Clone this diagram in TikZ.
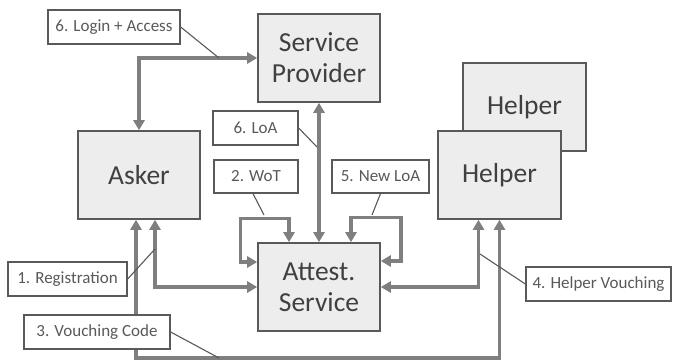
\documentclass[tikz,border=0pt]{standalone}
\usepackage{fontspec}
\setmainfont{Carlito}
\usetikzlibrary{arrows.meta}
\definecolor{boxfill}{HTML}{EDEDED}
\definecolor{boxline}{HTML}{595959}
\definecolor{boxtext}{HTML}{404040}
\definecolor{conncol}{HTML}{7F7F7F}
\definecolor{tagtext}{HTML}{595959}
\tikzset{
  bigbox/.style={draw=boxline, line width=1.6pt, fill=boxfill, text=boxtext,
    minimum width=122pt, minimum height=88pt, inner sep=0pt, align=center,
    font=\fontsize{27.5}{31}\selectfont},
  tag/.style={draw=boxline, line width=1.3pt, fill=white, text=tagtext,
    minimum height=34pt, inner sep=0pt, align=center,
    font=\fontsize{17}{20}\selectfont},
  conn/.style={draw=conncol, line width=3.4pt,
    {Triangle[length=10pt,width=11pt]}-{Triangle[length=10pt,width=11pt]}},
  pointer/.style={draw=boxline, line width=1.1pt}
}
\begin{document}
\begin{tikzpicture}[x=1pt,y=1pt]
\useasboundingbox (0,0) rectangle (673,-360);

% main actors
\node[bigbox] (sp) at (319,-58) {Service\\Provider};
\node[bigbox] (asker) at (139,-175) {Asker};
\node[bigbox, minimum width=123pt] (helperB) at (524.5,-107) {Helper};
\node[bigbox, minimum width=123pt] (helper) at (499.5,-175) {Helper};
\node[bigbox] (att) at (319,-287) {Attest.\\Service};

% flows between actors
\coordinate (vcy) at (0,-358);
\draw[conn] (sp.west) -| (asker.north);
\draw[conn] (sp.south) -- (att.north);
\draw[conn] (att.west) -| ([xshift=16pt]asker.south);
\draw[conn] ([xshift=-3pt]asker.south) |- (vcy -| helper.south) -- (helper.south);
\draw[conn] (att.east) -| ([xshift=-21pt]helper.south);
\draw[conn] ([xshift=-30pt]att.north) -- ++(0,24)
  -| ([xshift=-17pt,yshift=25pt]att.west) -- ([yshift=25pt]att.west);
\draw[conn] ([xshift=32pt]att.north) -- ++(0,25)
  -| ([xshift=20pt,yshift=26pt]att.east) -- ([yshift=26pt]att.east);

% step labels
\node[tag, minimum width=132pt] (login) at (114,-27) {6. Login + Access};
\node[tag, minimum width=85pt] (loa) at (255.5,-128) {6. LoA};
\node[tag, minimum width=84pt, minimum height=33pt] (wot) at (256,-176.5) {2. WoT};
\node[tag, minimum width=97pt, minimum height=33pt] (newloa) at (380.5,-176.5) {5. New LoA};
\node[tag, minimum width=119pt] (reg) at (67.5,-279) {1. Registration};
\node[tag, minimum width=146pt] (vc) at (97,-332) {3. Vouching Code};
\node[tag, minimum width=145pt] (hv) at (598.5,-284) {4. Helper Vouching};

% label pointers
\coordinate (pLogin) at (219,-58);
\coordinate (pLoa) at (317,-147);
\coordinate (pWot) at (264,-215);
\coordinate (pNew) at (372,-215);
\coordinate (pReg) at (155,-249);
\coordinate (pVc) at (219,-358);
\coordinate (pHv) at (480,-254);
\draw[pointer] (login.east) -- (pLogin);
\draw[pointer] (loa.east) -- (pLoa);
\draw[pointer] ([xshift=-3pt]wot.south) -- (pWot);
\draw[pointer] (newloa.south) -- (pNew);
\draw[pointer] (reg.east) -- (pReg);
\draw[pointer] (vc.east) -- (pVc);
\draw[pointer] (hv.west) -- (pHv);
\end{tikzpicture}
\end{document}
